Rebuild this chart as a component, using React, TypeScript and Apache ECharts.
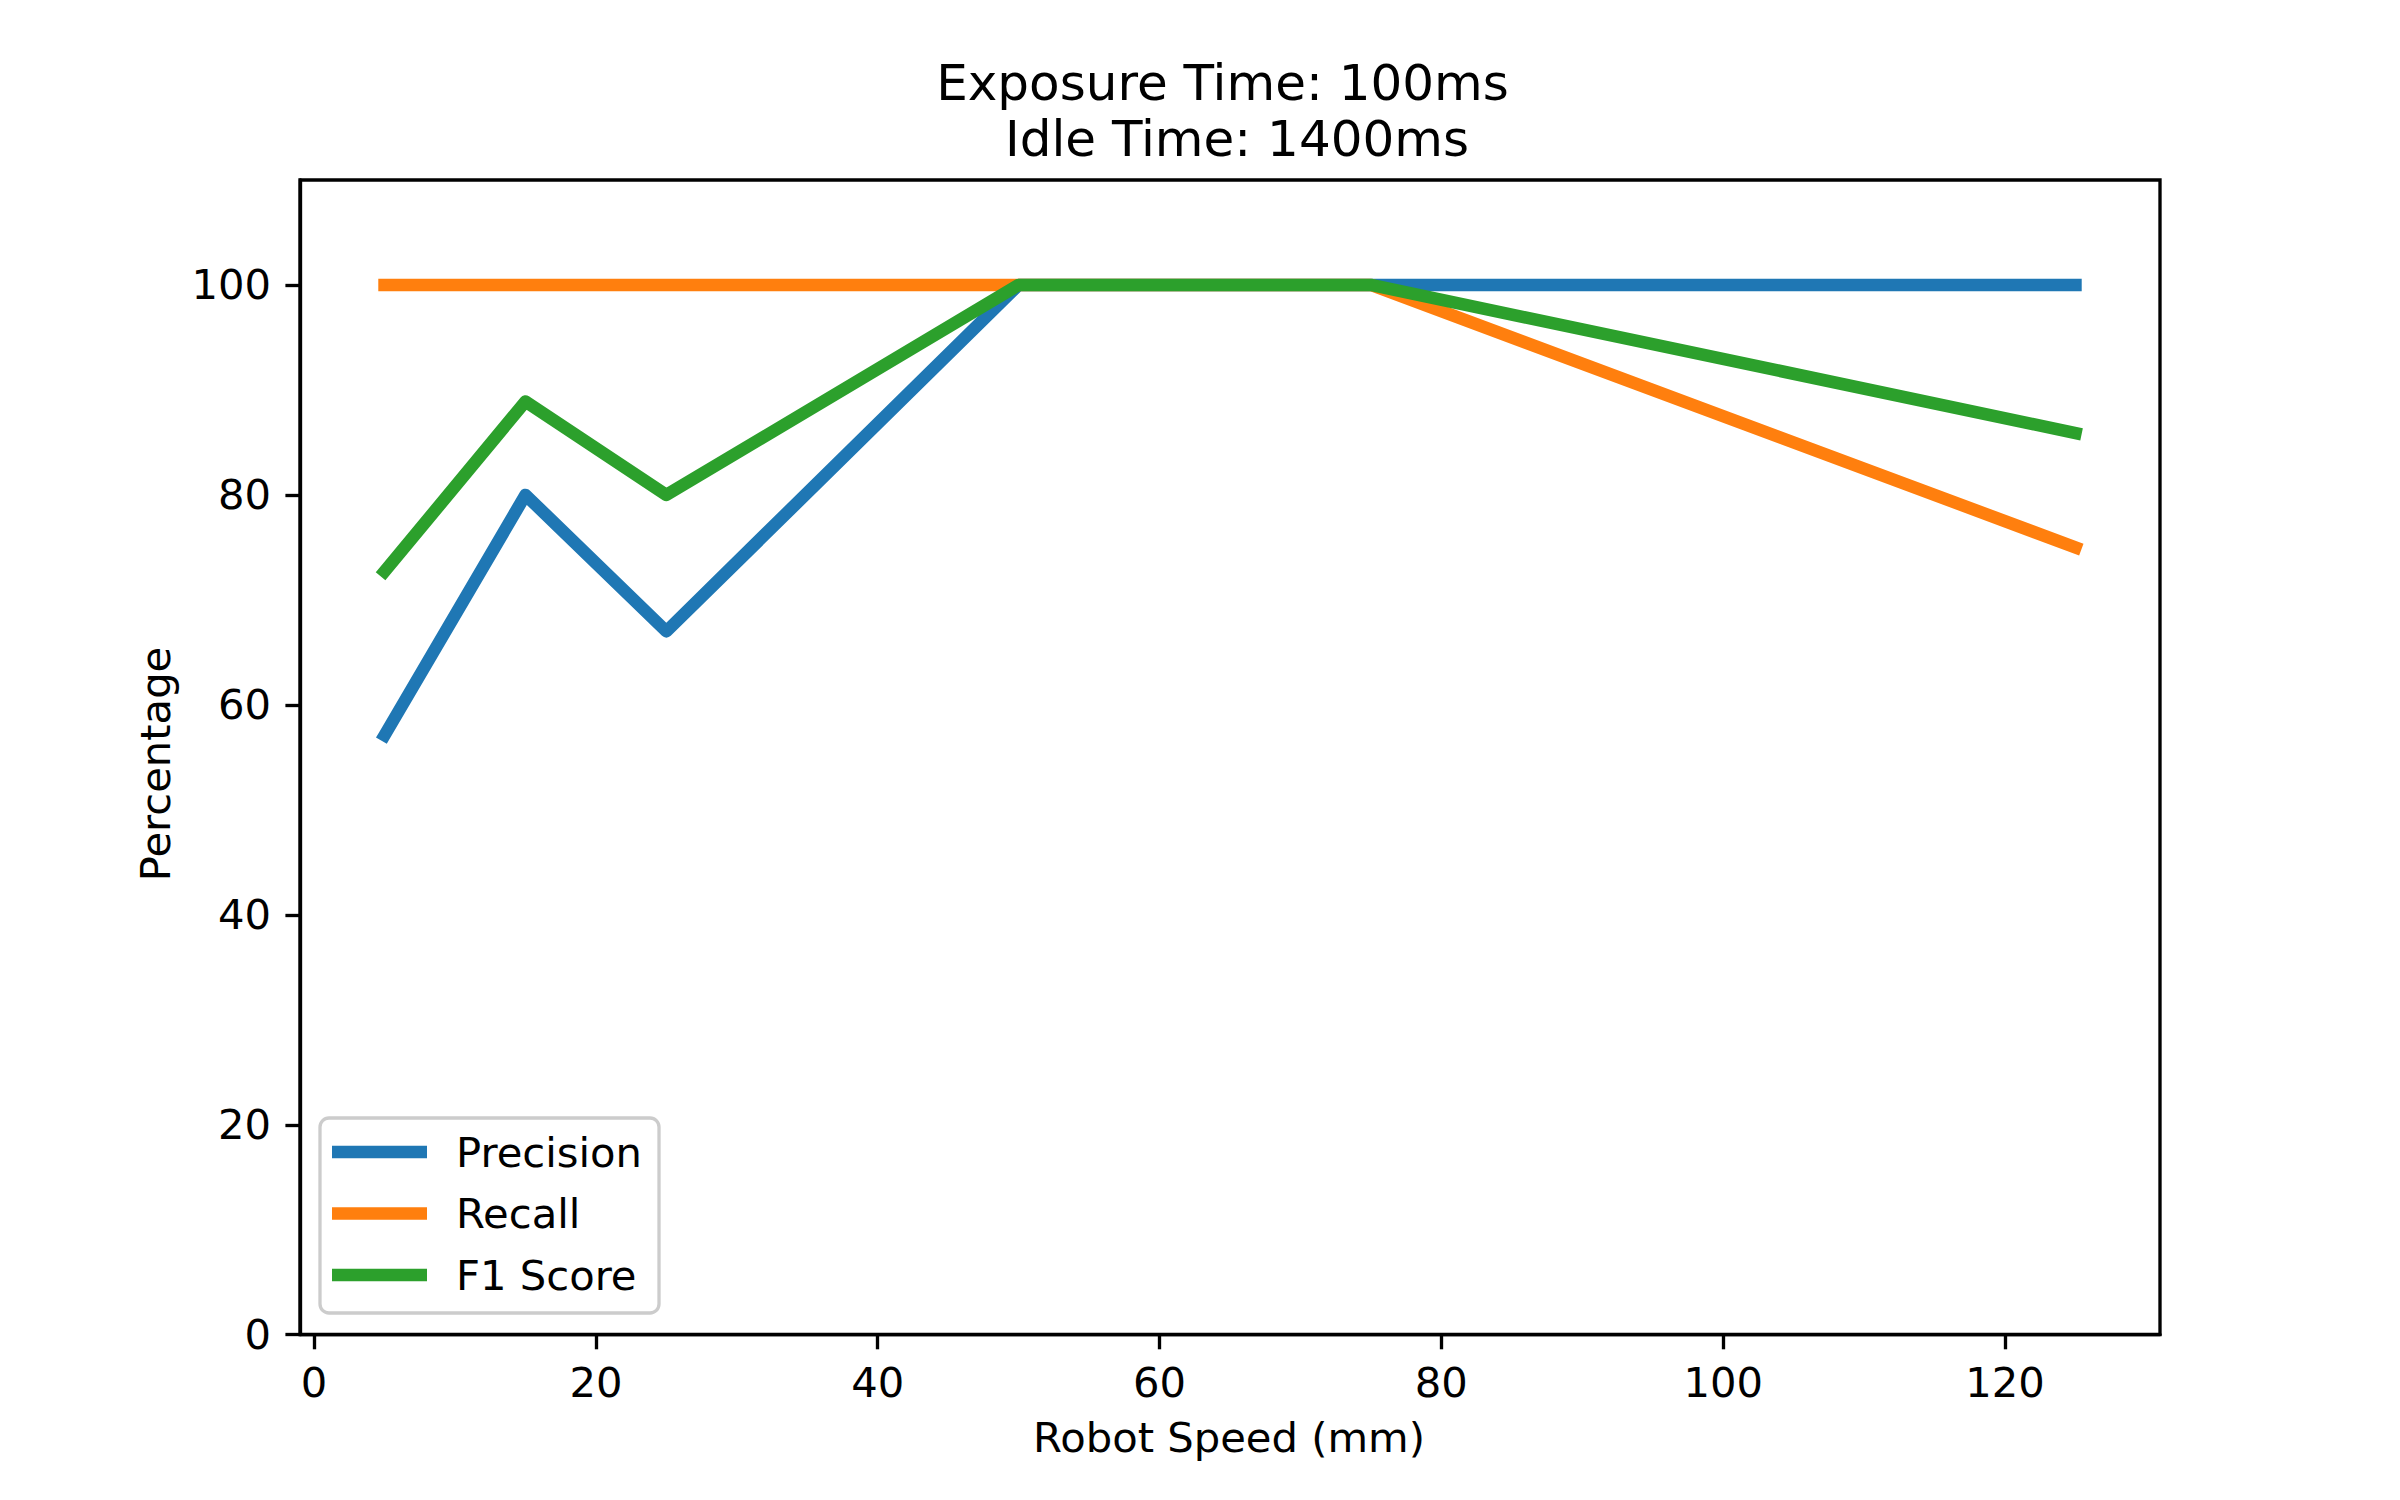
import React, { useEffect, useRef } from "react";
import * as echarts from "echarts";

const speeds = [5, 15, 25, 50, 75, 125];
const precision = [57.1, 80, 67, 100, 100, 100];
const recall = [100, 100, 100, 100, 100, 75];
const f1Score = [72.7, 88.9, 80, 100, 100, 85.9];
const seriesNames = ["Precision", "Recall", "F1 Score"];
const seriesColors = ["#1f77b4", "#ff7f0e", "#2ca02c"];
const xTicks = [0, 20, 40, 60, 80, 100, 120];
const yTicks = [0, 20, 40, 60, 80, 100];
const titleLine1 = "Exposure Time: 100ms";
const titleLine2 = " Idle Time: 1400ms";
const xLabel = "Robot Speed (mm)";
const yLabel = "Percentage";

const FONT = "DejaVu Sans";
const FS = 41.7;
const LW = 3.33;

export default function App() {
  const ref = useRef<HTMLDivElement>(null);
  useEffect(() => {
    if (!ref.current) return;
    const chart = echarts.init(ref.current, null, { renderer: "svg" });
    const values = [precision, recall, f1Score];
    const series = values.map((vals, i) => ({
      name: seriesNames[i],
      type: "line",
      data: speeds.map((x, j) => [x, vals[j]]),
      showSymbol: false,
      symbol: "none",
      color: seriesColors[i],
      lineStyle: { width: 12.5, color: seriesColors[i], cap: "square", join: "round" },
      z: 2 + i,
    }));
    chart.setOption({
      animation: false,
      backgroundColor: "#ffffff",
      textStyle: { fontFamily: FONT },
      grid: {
        left: 300,
        top: 180,
        width: 1860,
        height: 1154.7,
        show: true,
        borderColor: "#000",
        borderWidth: LW,
        backgroundColor: "transparent",
        containLabel: false,
        outerBoundsMode: "none",
      },
      xAxis: {
        type: "value",
        min: -1,
        max: 131,
        splitLine: { show: false },
        axisLine: { show: true, onZero: false, lineStyle: { color: "#000", width: LW } },
        axisTick: { show: true, length: 14.6, lineStyle: { color: "#000", width: LW }, customValues: xTicks },
        axisLabel: { show: true, margin: 27, fontSize: FS, color: "#000", fontFamily: FONT, customValues: xTicks },
      },
      yAxis: {
        type: "value",
        min: 0,
        max: 110,
        splitLine: { show: false },
        axisLine: { show: true, onZero: false, lineStyle: { color: "#000", width: LW } },
        axisTick: { show: true, length: 14.6, lineStyle: { color: "#000", width: LW }, customValues: yTicks },
        axisLabel: { show: true, margin: 29, fontSize: FS, color: "#000", fontFamily: FONT, customValues: yTicks },
      },
      legend: {
        orient: "vertical",
        left: 320,
        top: 1118,
        padding: [10, 17, 14, 12],
        itemWidth: 95,
        itemHeight: 12.5,
        itemGap: 13.5,
        icon: "rect",
        data: seriesNames,
        backgroundColor: "rgba(255,255,255,0.8)",
        borderColor: "#cccccc",
        borderWidth: 3.3,
        borderRadius: 9,
        textStyle: { fontSize: FS, fontFamily: FONT, color: "#000", lineHeight: 48, padding: [0, 0, 0, 24] },
        selectedMode: false,
      },
      graphic: [
        {
          type: "text",
          x: 1222.5,
          y: 82.7,
          style: { text: titleLine1, fontSize: 50, fontFamily: FONT, fill: "#000", align: "center", verticalAlign: "middle" },
        },
        {
          type: "text",
          x: 1237,
          y: 139.4,
          style: { text: titleLine2.trim(), fontSize: 50, fontFamily: FONT, fill: "#000", align: "center", verticalAlign: "middle" },
        },
        {
          type: "text",
          x: 1229,
          y: 1437.3,
          style: { text: xLabel, fontSize: FS, fontFamily: FONT, fill: "#000", align: "center", verticalAlign: "middle" },
        },
        {
          type: "text",
          x: 155.6,
          y: 764,
          rotation: Math.PI / 2,
          style: { text: yLabel, fontSize: FS, fontFamily: FONT, fill: "#000", align: "center", verticalAlign: "middle" },
        },
      ],
      series,
    });
    return () => chart.dispose();
  }, []);
  return (
    <div
      ref={ref}
      style={{ position: "absolute", left: 0, top: 0, width: 2400, height: 1500, background: "#fff" }}
    />
  );
}
